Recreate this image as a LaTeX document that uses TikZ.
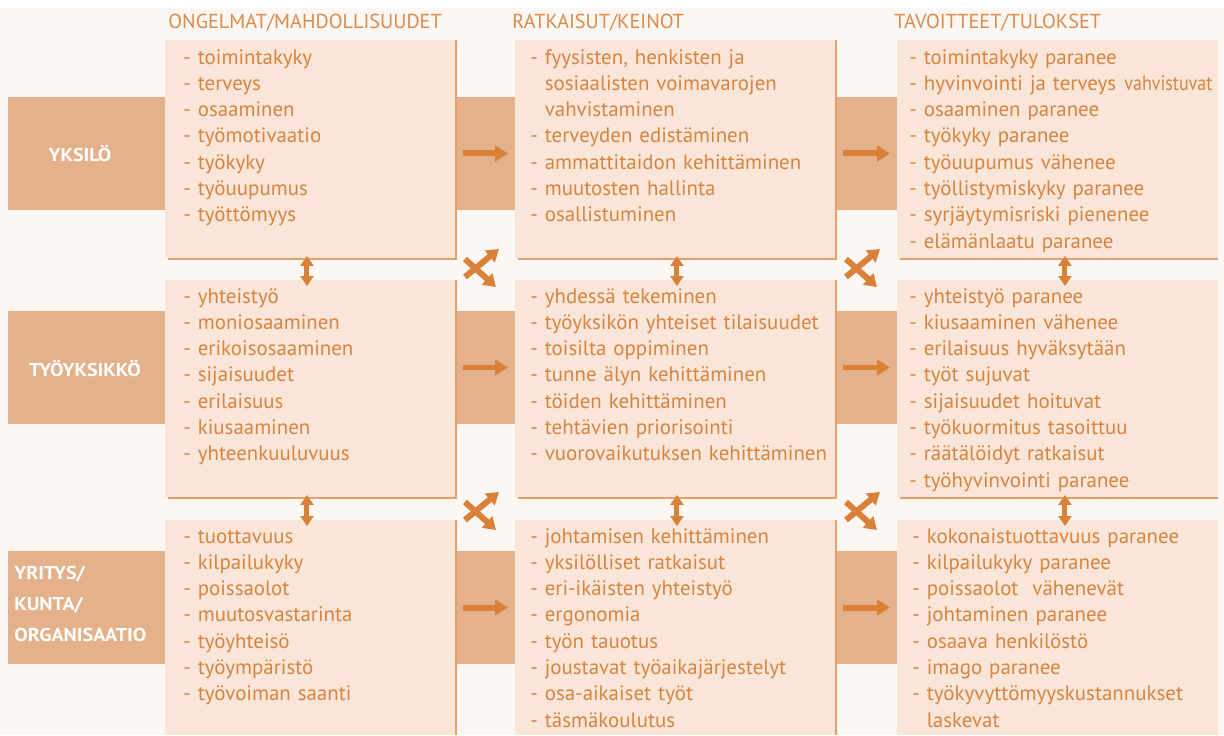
\documentclass[tikz,border=0pt]{standalone}
\usepackage{fontspec}
\usepackage{graphicx}
\setmainfont{PT Sans}
\newfontfamily\headfont{PT Sans}
\newfontfamily\labelfont[FakeStretch=1.08]{PT Sans}
\usetikzlibrary{arrows.meta,calc}

\definecolor{paper}{HTML}{FCF7F3}
\definecolor{boxfill}{HTML}{F9E6D8}
\definecolor{bandfill}{HTML}{E4B18B}
\definecolor{ink}{HTML}{D8843F}
\definecolor{headink}{HTML}{DB8A4C}
\definecolor{arrowc}{HTML}{D98039}
\definecolor{edgec}{HTML}{E3A06E}

\tikzset{
  cell/.style={anchor=north west, inner sep=0pt, outer sep=0pt, fill=boxfill},
  band/.style={anchor=north west, inner sep=0pt, outer sep=0pt, fill=bandfill, minimum width=17.78cm, minimum height=2.26cm},
  edgeline/.style={draw=edgec, line width=0.035cm},
  items/.style={anchor=base west, inner sep=0pt, text width=7cm, align=left, text=ink,
    font=\fontsize{11.9pt}{14.97pt}\selectfont},
  colhead/.style={anchor=base west, inner sep=0pt, text=headink, font=\headfont\fontsize{11.5pt}{13pt}\selectfont},
  rowlabel/.style={inner sep=0pt, text=white, font=\labelfont\fontsize{10.6pt}{17.5pt}\selectfont\bfseries},
  flow/.style={draw=arrowc, line width=0.12cm, -{Triangle[width=0.31cm,length=0.26cm]},
    shorten <=0.14cm, shorten >=0.14cm},
  link/.style={draw=arrowc, line width=0.1cm,
    {Triangle[width=0.26cm,length=0.2cm]}-{Triangle[width=0.26cm,length=0.2cm]},
    shorten <=-0.06cm, shorten >=-0.12cm},
  cross/.style={draw=arrowc, line width=0.12cm, -{Triangle[width=0.3cm,length=0.24cm]}},
}

\begin{document}
\begin{tikzpicture}[x=0.02cm, y=-0.02cm]
  \useasboundingbox (0,0) rectangle (1224,735);
  \fill[paper] (0,0) rectangle (1224,735);
  \fill[white] (0,0) rectangle (1224,8);

  % horizontal bands behind the cells
  \node[band] (band1) at (8,97) {};
  \node[band] (band2) at (8,311) {};
  \node[band] (band3) at (8,551) {};

  % row labels
  \node[rowlabel] (l1) at (80,154) {YKSILÖ};
  \node[rowlabel] (l2) at (85,369) {TYÖYKSIKKÖ};
  \node[rowlabel, anchor=west, align=left] (l3) at (14,604) {YRITYS/\\KUNTA/\\ORGANISAATIO};

  % column headings
  \node[colhead] (h1) at (168,28) {ONGELMAT/MAHDOLLISUUDET};
  \node[colhead] (h2) at (512,28) {RATKAISUT/KEINOT};
  \node[colhead] (h3) at (894,28) {TAVOITTEET/TULOKSET};

  % cells
  \node[cell, minimum width=5.82cm, minimum height=4.38cm] (b11) at (165,40) {};
  \node[cell, minimum width=6.42cm, minimum height=4.38cm] (b12) at (515,40) {};
  \node[cell, minimum width=6.42cm, minimum height=4.38cm] (b13) at (897,40) {};
  \node[cell, minimum width=5.82cm, minimum height=4.36cm] (b21) at (165,280) {};
  \node[cell, minimum width=6.42cm, minimum height=4.36cm] (b22) at (515,280) {};
  \node[cell, minimum width=6.42cm, minimum height=4.36cm] (b23) at (897,280) {};
  \node[cell, minimum width=5.82cm, minimum height=4.30cm] (b31) at (165,520) {};
  \node[cell, minimum width=6.42cm, minimum height=4.30cm] (b32) at (515,520) {};
  \node[cell, minimum width=6.42cm, minimum height=4.30cm] (b33) at (897,520) {};

  % cell edges
  \foreach \c in {b11,b12,b21,b22}
    \draw[edgeline] ([xshift=0.06cm]\c.south west) -- (\c.south east) -- (\c.north east);
  \foreach \c in {b13,b23}
    \draw[edgeline] ([xshift=0.06cm]\c.south west) -- (\c.south east);
  \foreach \c in {b31,b32}
    \draw[edgeline] (\c.south east) -- (\c.north east);

  % cell texts
  \node[items] (t11) at (183,64) {- toimintakyky\\- terveys\\- osaaminen\\- työmotivaatio\\- työkyky\\- työuupumus\\- työttömyys};
  \node[items] (t12) at (530,64) {- fyysisten, henkisten ja\\\phantom{-}\ sosiaalisten voimavarojen\\\phantom{-}\ vahvistaminen\\- terveyden edistäminen\\- ammattitaidon kehittäminen\\- muutosten hallinta\\- osallistuminen};
  \node[items] (t13) at (909,64) {- toimintakyky paranee\\- hyvinvointi ja terveys\hspace{0.4em}\scalebox{0.86}[1]{vahvistuvat}\\- osaaminen paranee\\- työkyky paranee\\- työuupumus vähenee\\- työllistymiskyky paranee\\- syrjäytymisriski pienenee\\- elämänlaatu paranee};

  \node[items] (t21) at (183,303) {- yhteistyö\\- moniosaaminen\\- erikoisosaaminen\\- sijaisuudet\\- erilaisuus\\- kiusaaminen\\- yhteenkuuluvuus};
  \node[items] (t22) at (530,303) {- yhdessä tekeminen\\- työyksikön yhteiset tilaisuudet\\- toisilta oppiminen\\- tunne älyn kehittäminen\\- töiden kehittäminen\\- tehtävien priorisointi\\- vuorovaikutuksen kehittäminen};
  \node[items] (t23) at (909,303) {- yhteistyö paranee\\- kiusaaminen vähenee\\- erilaisuus hyväksytään\\- työt sujuvat\\- sijaisuudet hoituvat\\- työkuormitus tasoittuu\\- räätälöidyt ratkaisut\\- työhyvinvointi paranee};

  \node[items] (t31) at (183,543) {- tuottavuus\\- kilpailukyky\\- poissaolot\\- muutosvastarinta\\- työyhteisö\\- työympäristö\\- työvoiman saanti};
  \node[items] (t32) at (530,543) {- johtamisen kehittäminen\\- yksilölliset ratkaisut\\- eri-ikäisten yhteistyö\\- ergonomia\\- työn tauotus\\- joustavat työaikajärjestelyt\\- osa-aikaiset työt\\- täsmäkoulutus};
  \node[items] (t33) at (912,543) {- kokonaistuottavuus paranee\\- kilpailukyky paranee\\- poissaolot\ \ vähenevät\\- johtaminen paranee\\- osaava henkilöstö\\- imago paranee\\- työkyvyttömyyskustannukset\\\phantom{-}\ laskevat};

  % flow arrows along each band
  \foreach \r in {1,2,3} {
    \draw[flow] (b\r1.east |- band\r.center) -- (b\r2.west |- band\r.center);
    \draw[flow] (b\r2.east |- band\r.center) -- (b\r3.west |- band\r.center);
  }

  % two-way links between rows
  \draw[link] ([xshift=-0.07cm]b11.south) -- ([xshift=-0.07cm]b21.north);
  \draw[link] ([xshift=0.03cm]b12.south) -- ([xshift=0.03cm]b22.north);
  \draw[link] ([xshift=0.15cm]b13.south) -- ([xshift=0.15cm]b23.north);
  \draw[link] ([xshift=-0.07cm]b21.south) -- ([xshift=-0.07cm]b31.north);
  \draw[link] ([xshift=0.03cm]b22.south) -- ([xshift=0.03cm]b32.north);
  \draw[link] ([xshift=0.15cm]b23.south) -- ([xshift=0.15cm]b33.north);

  % crossing arrows between columns
  \coordinate (k1) at ($(b11.south east)!0.5!(b22.north west)+(-4.5,-1.5)$);
  \coordinate (k2) at ($(b12.south east)!0.5!(b23.north west)+(-4.5,-1.5)$);
  \coordinate (k3) at ($(b21.south east)!0.5!(b32.north west)+(-4.5,2)$);
  \coordinate (k4) at ($(b22.south east)!0.5!(b33.north west)+(-4.5,2)$);
  \foreach \k in {k1,k2,k3,k4} {
    \draw[cross] ($(\k)+(-16,9)$) -- ($(\k)+(18,-19)$);
    \draw[cross] ($(\k)+(-16,-9)$) -- ($(\k)+(15,19)$);
  }
\end{tikzpicture}
\end{document}
